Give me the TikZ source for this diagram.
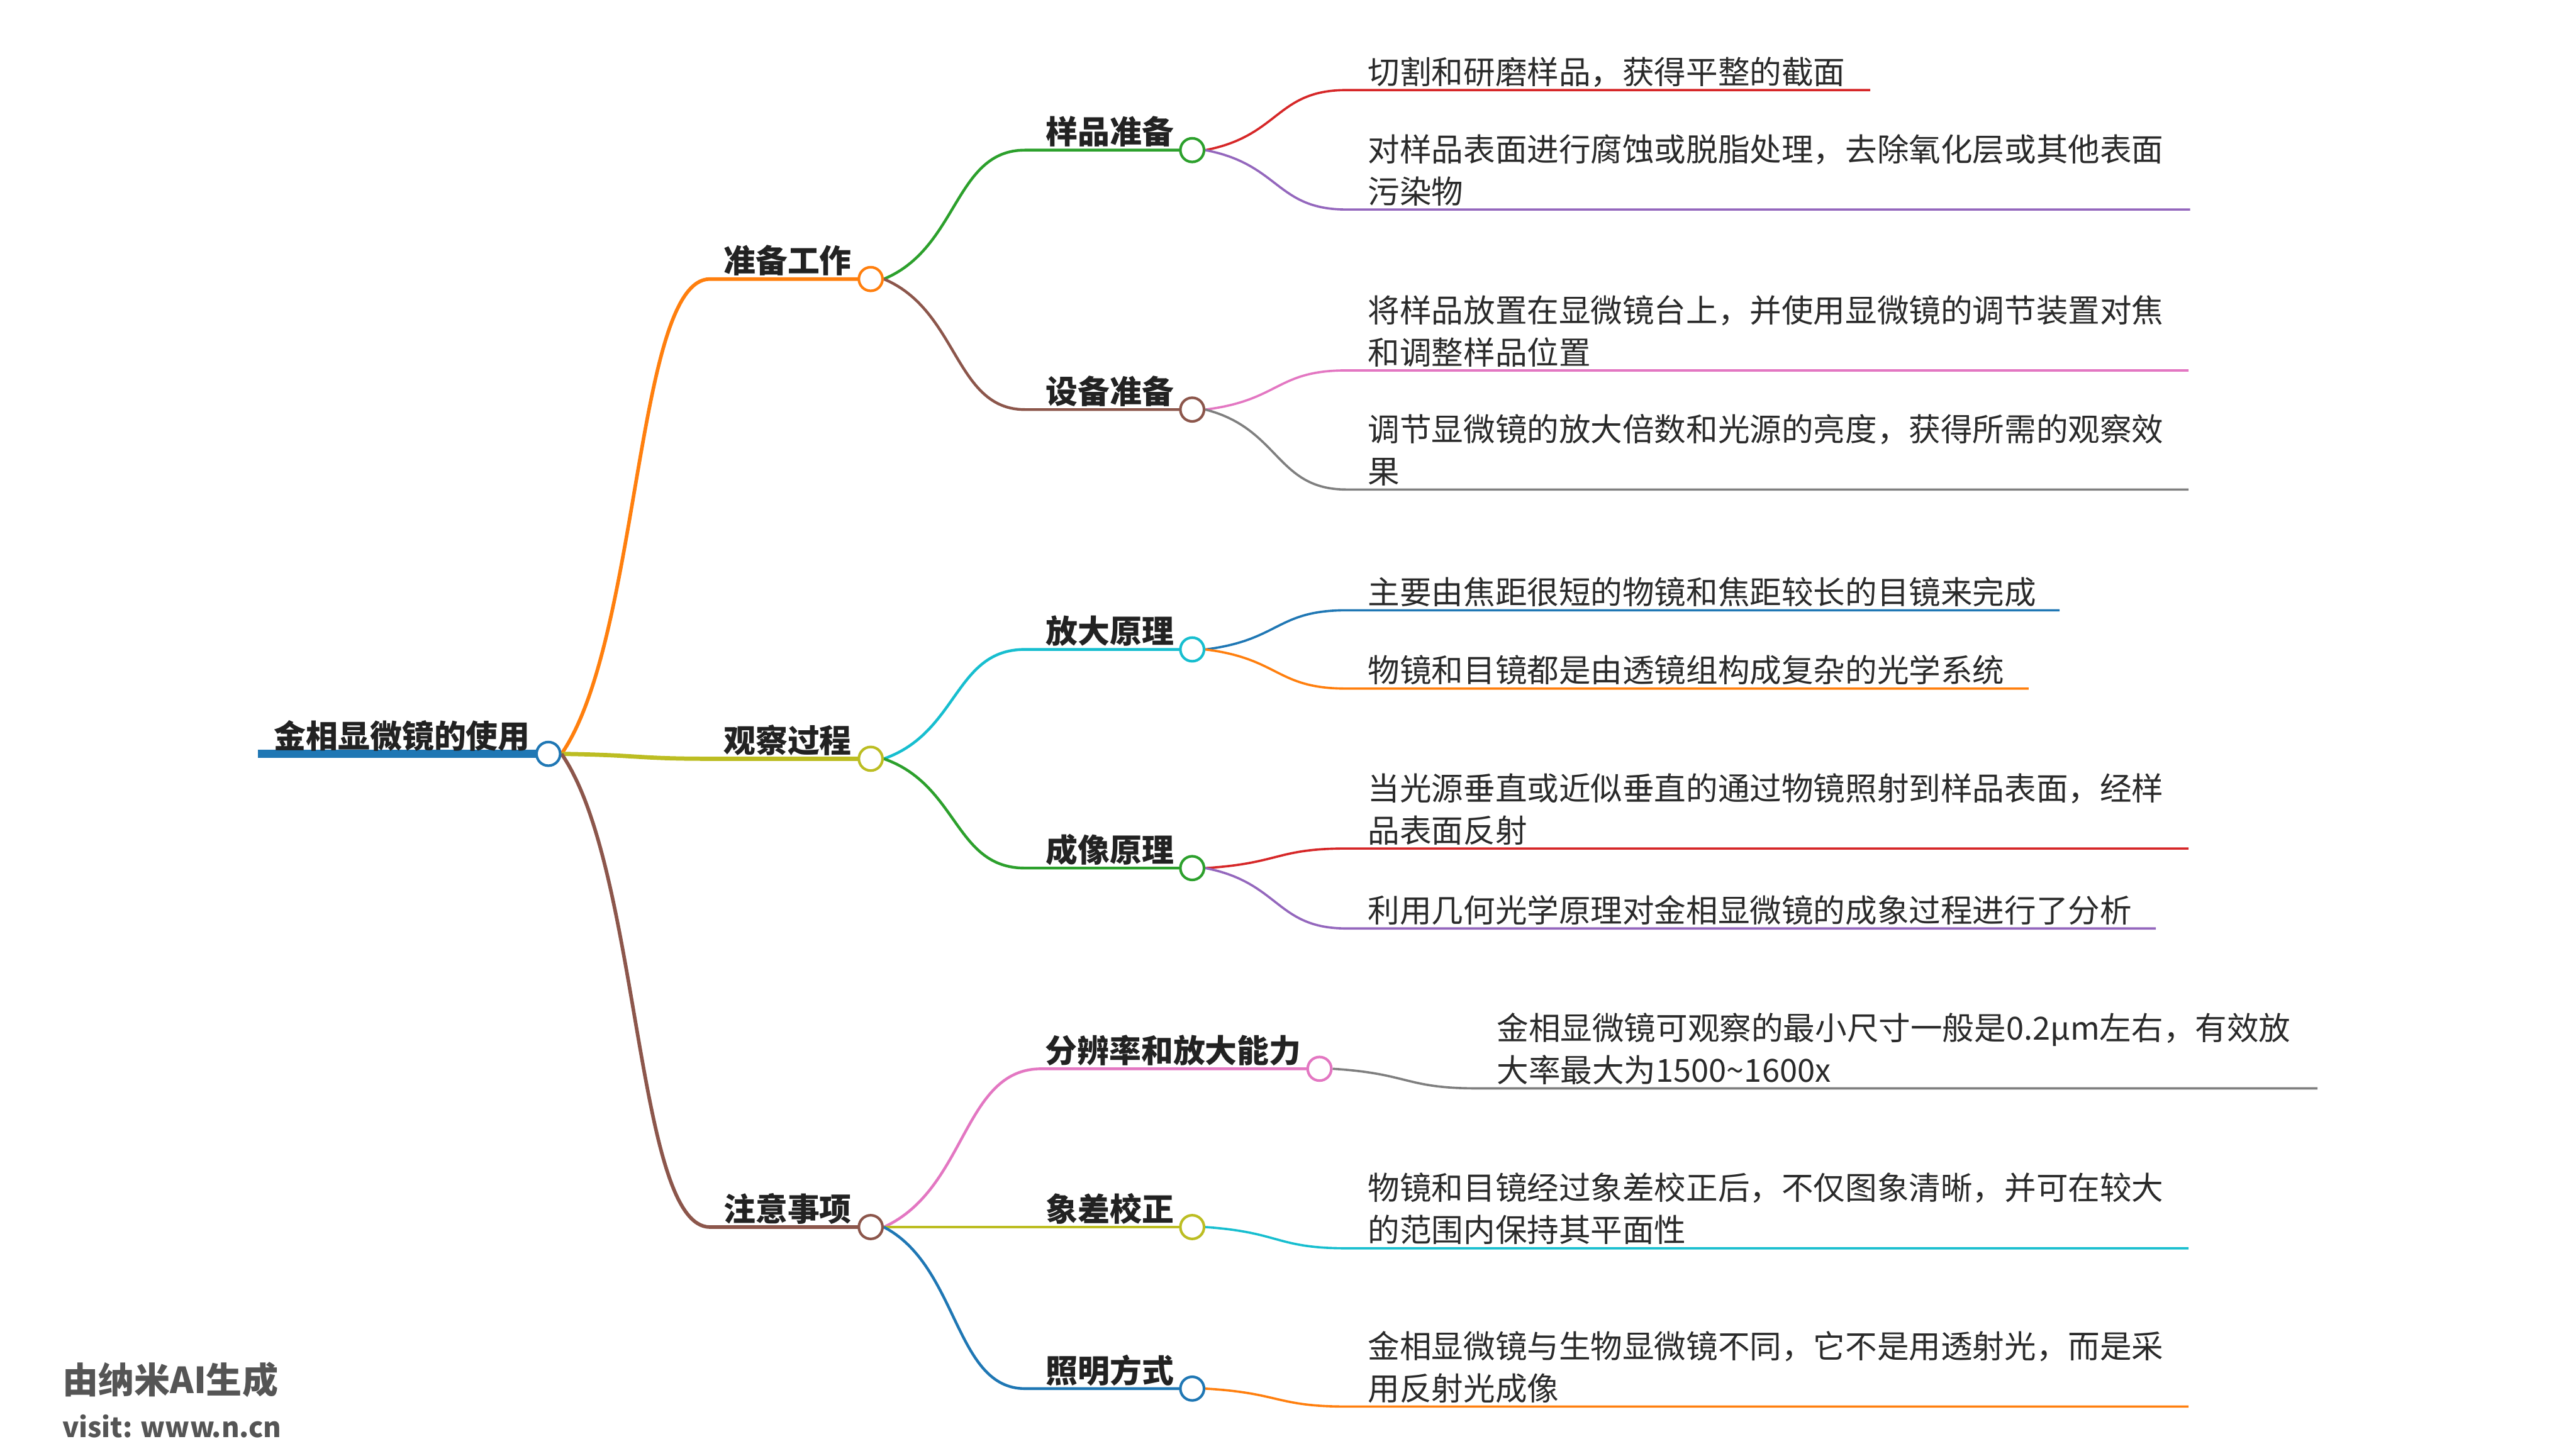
\documentclass[tikz,border=0pt]{standalone}
\usepackage{fontspec}
\setmainfont{Noto Sans CJK SC}
\usetikzlibrary{calc}
\pgfdeclarelayer{bg}
\pgfsetlayers{bg,main}
\definecolor{cBlue}{HTML}{1F77B4}
\definecolor{cOrange}{HTML}{FF7F0E}
\definecolor{cGreen}{HTML}{2CA02C}
\definecolor{cRed}{HTML}{D62728}
\definecolor{cPurple}{HTML}{9467BD}
\definecolor{cBrown}{HTML}{8C564B}
\definecolor{cPink}{HTML}{E377C2}
\definecolor{cGray}{HTML}{7F7F7F}
\definecolor{cOlive}{HTML}{BCBD22}
\definecolor{cCyan}{HTML}{17BECF}
\definecolor{txt}{HTML}{222222}
\definecolor{leaftxt}{HTML}{2A2A2A}
\definecolor{foottxt}{HTML}{555555}
\newcommand{\lt}[1]{\begin{tabular}[b]{@{}l@{}}#1\end{tabular}}
\newcommand{\branch}[4]{\draw[#1] (#2) .. controls ($(#2)!0.24!(#3) + (#2)!0.29!(#3 |- #2) - (#2)$) and ($(#3)!0.5!(#3 -| #2)$) .. (#3) -- (#4);}
\tikzset{
  dot/.style={circle, draw=#1, fill=white, line width=1.6pt, minimum size=14.5pt, inner sep=0pt},
  lbl/.style={font=\bfseries\fontsize{19.6}{25.8}\selectfont, text=txt, inner sep=0pt, anchor=base east},
  leaf/.style={font=\fontsize{19.5}{25.8}\selectfont, text=leaftxt, inner sep=0pt, anchor=base west},
  foot/.style={font=\bfseries, text=foottxt, inner sep=0pt, anchor=base west},
  lwa/.style={line width=2.2pt},
  lwb/.style={line width=1.7pt},
  lwc/.style={line width=1.4pt}
}
\begin{document}
\begin{tikzpicture}[x=1pt,y=-1pt]
\useasboundingbox (0,0) rectangle (1568,892);

% circles
\node[dot=cBlue] (R) at (336,462) {};
\node[dot=cOrange] (P) at (533.5,171) {};
\node[dot=cOlive] (O) at (533.5,465) {};
\node[dot=cBrown] (N) at (533.5,752) {};
\node[dot=cGreen] (A1) at (730.5,92) {};
\node[dot=cBrown] (A2) at (730.5,251) {};
\node[dot=cCyan] (B1) at (730.5,398) {};
\node[dot=cGreen] (B2) at (730.5,532) {};
\node[dot=cPink] (C1) at (808.5,655) {};
\node[dot=cOlive] (C2) at (730.5,752) {};
\node[dot=cBlue] (C3) at (730.5,851) {};

% bend points and line ends
\coordinate (rs) at (158,462);
\coordinate (kP) at (435,171);
\coordinate (kO) at (435,465);
\coordinate (kN) at (435,752);
\coordinate (kA1) at (628,92);
\coordinate (kA2) at (628,251);
\coordinate (kB1) at (628,398);
\coordinate (kB2) at (628,532);
\coordinate (kC1) at (638,655);
\coordinate (kC2) at (628,752);
\coordinate (kC3) at (628,851);
\coordinate (b1) at (825,55.2);   \coordinate (e1) at (1146,55.2);
\coordinate (b2) at (825,128.4);  \coordinate (e2) at (1342,128.4);
\coordinate (b3) at (825,227);    \coordinate (e3) at (1341,227);
\coordinate (b4) at (825,300);    \coordinate (e4) at (1341,300);
\coordinate (b5) at (825,374);    \coordinate (e5) at (1262,374);
\coordinate (b6) at (825,422);    \coordinate (e6) at (1243,422);
\coordinate (b7) at (825,520);    \coordinate (e7) at (1341,520);
\coordinate (b8) at (825,569);    \coordinate (e8) at (1321,569);
\coordinate (b9) at (905,667);    \coordinate (e9) at (1420,667);
\coordinate (b10) at (825,765);   \coordinate (e10) at (1341,765);
\coordinate (b11) at (825,862);   \coordinate (e11) at (1341,862);

\begin{pgfonlayer}{bg}
\draw[cBlue, line width=4.9pt] (rs) -- (R.center);
\branch{cOrange,lwa}{R.east}{kP}{P.center}
\branch{cOlive,line width=2.6pt}{R.east}{kO}{O.center}
\branch{cBrown,lwa}{R.east}{kN}{N.center}
\branch{cGreen,lwb}{P.east}{kA1}{A1.center}
\branch{cBrown,lwb}{P.east}{kA2}{A2.center}
\branch{cCyan,lwb}{O.east}{kB1}{B1.center}
\branch{cGreen,lwb}{O.east}{kB2}{B2.center}
\branch{cPink,lwb}{N.east}{kC1}{C1.center}
\draw[cOlive,lwb] (N.center) -- (C2.center);
\branch{cBlue,lwb}{N.east}{kC3}{C3.center}
\branch{cRed,lwc}{A1.east}{b1}{e1}
\branch{cPurple,lwc}{A1.east}{b2}{e2}
\branch{cPink,lwc}{A2.east}{b3}{e3}
\branch{cGray,lwc}{A2.east}{b4}{e4}
\branch{cBlue,lwc}{B1.east}{b5}{e5}
\branch{cOrange,lwc}{B1.east}{b6}{e6}
\branch{cRed,lwc}{B2.east}{b7}{e7}
\branch{cPurple,lwc}{B2.east}{b8}{e8}
\branch{cGray,lwc}{C1.east}{b9}{e9}
\branch{cCyan,lwc}{C2.east}{b10}{e10}
\branch{cOrange,lwc}{C3.east}{b11}{e11}
\end{pgfonlayer}

% labels
\node[lbl] (tR) at (325,458.3) {金相显微镜的使用};
\node[lbl] (tP) at (522,167.2) {准备工作};
\node[lbl] (tO) at (522,461.2) {观察过程};
\node[lbl] (tN) at (522,748.2) {注意事项};
\node[lbl] (tA1) at (719.5,88.2) {样品准备};
\node[lbl] (tA2) at (719.5,247.2) {设备准备};
\node[lbl] (tB1) at (719.5,394.2) {放大原理};
\node[lbl] (tB2) at (719.5,528.2) {成像原理};
\node[lbl] (tC1) at (797.5,651.2) {分辨率和放大能力};
\node[lbl] (tC2) at (719.5,748.2) {象差校正};
\node[lbl] (tC3) at (719.5,847.2) {照明方式};

% leaves
\node[leaf] (t1) at (838,51.4) {\lt{切割和研磨样品，获得平整的截面}};
\node[leaf] (t2) at (838,124.6) {\lt{对样品表面进行腐蚀或脱脂处理，去除氧化层或其他表面\\污染物}};
\node[leaf] (t3) at (838,223.2) {\lt{将样品放置在显微镜台上，并使用显微镜的调节装置对焦\\和调整样品位置}};
\node[leaf] (t4) at (838,296.2) {\lt{调节显微镜的放大倍数和光源的亮度，获得所需的观察效\\果}};
\node[leaf] (t5) at (838,370.2) {\lt{主要由焦距很短的物镜和焦距较长的目镜来完成}};
\node[leaf] (t6) at (838,418.2) {\lt{物镜和目镜都是由透镜组构成复杂的光学系统}};
\node[leaf] (t7) at (838,516.2) {\lt{当光源垂直或近似垂直的通过物镜照射到样品表面，经样\\品表面反射}};
\node[leaf] (t8) at (838,565.2) {\lt{利用几何光学原理对金相显微镜的成象过程进行了分析}};
\node[leaf] (t9) at (917,663.2) {\lt{金相显微镜可观察的最小尺寸一般是0.2μm左右，有效放\\大率最大为1500\char"7E 1600x}};
\node[leaf] (t10) at (838,761.2) {\lt{物镜和目镜经过象差校正后，不仅图象清晰，并可在较大\\的范围内保持其平面性}};
\node[leaf] (t11) at (838,858.2) {\lt{金相显微镜与生物显微镜不同，它不是用透射光，而是采\\用反射光成像}};

% footer
\node[foot, font=\bfseries\fontsize{22}{24}\selectfont] (f1) at (38,854) {由纳米AI生成};
\node[foot, font=\bfseries\fontsize{16.8}{24}\selectfont] (f2) at (38,881) {visit: www.n.cn};
\end{tikzpicture}
\end{document}
